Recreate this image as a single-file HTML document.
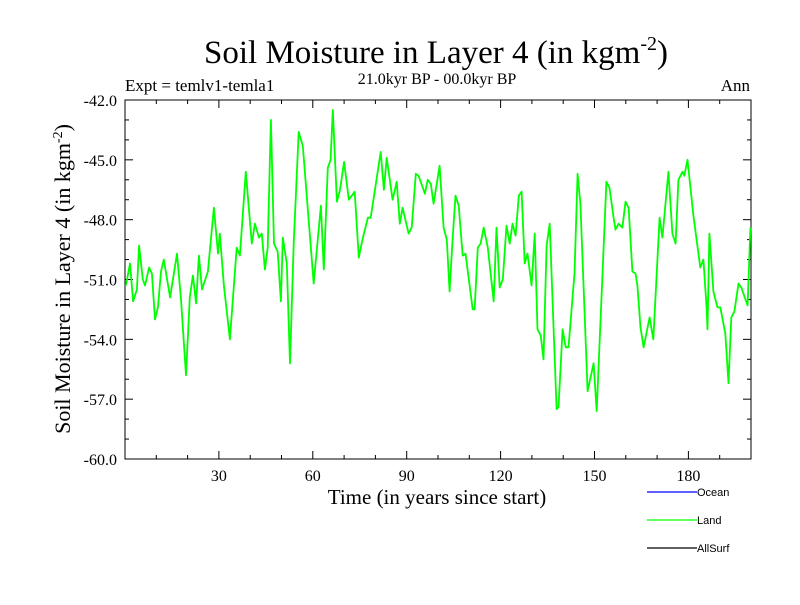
<!DOCTYPE html>
<html><head><meta charset="utf-8"><style>
body{margin:0;background:#fff;width:800px;height:600px;overflow:hidden}
svg text{font-family:"Liberation Serif",serif;fill:#000}
</style></head><body>
<svg id="chart" width="800" height="600" xmlns="http://www.w3.org/2000/svg">
<text x="436" y="63" font-size="33" text-anchor="middle">Soil Moisture in Layer 4 (in kgm<tspan font-size="20" dy="-13">-2</tspan><tspan dy="13">)</tspan></text>
<text x="125" y="91" font-size="17">Expt = temlv1-temla1</text>
<text x="437" y="84" font-size="16" text-anchor="middle">21.0kyr BP - 00.0kyr BP</text>
<text x="750" y="91" font-size="17" text-anchor="end">Ann</text>
<text x="437" y="504" font-size="21" text-anchor="middle">Time (in years since start)</text>
<text transform="translate(70,279) rotate(-90)" font-size="22" text-anchor="middle">Soil Moisture in Layer 4 (in kgm<tspan font-size="14" dy="-8">-2</tspan><tspan dy="8">)</tspan></text>
<g id="axes"></g>
<g id="series"></g>
<g>
<line x1="647" y1="492" x2="697" y2="492" stroke="#0000ff" stroke-width="1.3"/>
<text x="697" y="496" font-size="11" style="font-family:'Liberation Sans',sans-serif">Ocean</text>
<line x1="647" y1="520" x2="697" y2="520" stroke="#00ff00" stroke-width="1.3"/>
<text x="697" y="524" font-size="11" style="font-family:'Liberation Sans',sans-serif">Land</text>
<line x1="647" y1="548" x2="697" y2="548" stroke="#000" stroke-width="1.3"/>
<text x="697" y="552" font-size="11" style="font-family:'Liberation Sans',sans-serif">AllSurf</text>
</g>
</svg>
<script>
const years=[0.3,1.6,2.6,3.8,4.5,5.7,6.4,7.7,8.6,9.6,10.5,11.5,12.4,14.4,16.6,17.9,19.5,20.7,21.7,22.7,23.6,24.6,26.5,28.4,29.7,30.3,31.6,33.5,35.7,36.7,38.6,40.5,41.5,42.8,43.7,44.7,45.6,46.6,47.6,48.8,49.8,50.4,51.7,52.7,53.9,55.5,56.8,60.3,62.6,63.5,64.8,65.7,66.4,67.7,68.7,70.0,71.5,73.4,74.7,76.0,77.6,78.5,81.7,82.7,83.6,85.5,86.8,87.8,88.7,90.6,91.6,92.9,93.8,95.8,96.7,97.7,98.6,100.5,101.8,102.8,103.7,104.7,105.6,106.6,107.9,108.8,111.1,111.7,112.7,113.6,114.6,115.9,117.8,118.7,119.7,120.7,121.9,122.9,123.8,124.8,125.8,126.7,127.7,128.6,129.9,130.9,131.8,132.8,133.7,134.7,135.7,137.9,138.5,139.8,140.8,141.7,143.6,144.6,145.5,147.8,149.7,150.7,153.8,154.8,156.1,156.7,157.7,158.9,159.9,160.9,162.1,163.1,163.7,164.7,165.7,167.6,168.8,170.8,171.7,173.6,174.9,175.9,176.8,178.1,178.7,179.7,181.6,183.8,184.8,185.8,186.1,186.7,188.0,189.3,190.2,191.8,192.8,193.7,194.7,196.0,196.9,198.9,199.8];
const landValues=[-51.3,-50.2,-52.1,-51.5,-49.3,-51.0,-51.3,-50.4,-50.7,-53.0,-52.4,-50.6,-50.0,-51.9,-49.7,-52.0,-55.8,-51.9,-50.8,-52.2,-49.8,-51.5,-50.6,-47.4,-49.7,-48.7,-51.3,-54.0,-49.4,-49.8,-45.6,-49.2,-48.2,-48.9,-48.7,-50.5,-49.4,-43.0,-49.2,-49.6,-52.1,-48.9,-50.2,-55.2,-49.2,-43.6,-44.3,-51.2,-47.3,-50.5,-45.4,-45.0,-42.5,-47.1,-46.5,-45.1,-47.0,-46.6,-49.9,-48.9,-47.9,-47.9,-44.6,-46.5,-44.9,-47.0,-46.1,-48.2,-47.4,-48.7,-48.4,-45.7,-45.8,-46.7,-46.0,-46.2,-47.2,-45.3,-48.4,-49.0,-51.6,-48.9,-46.8,-47.3,-49.8,-49.7,-52.5,-52.5,-49.4,-49.2,-48.4,-49.4,-52.1,-48.4,-51.4,-51.0,-48.3,-49.2,-48.2,-48.8,-46.8,-46.6,-50.2,-49.7,-51.3,-48.7,-53.5,-53.8,-55.0,-49.3,-48.2,-57.5,-57.4,-53.5,-54.4,-54.4,-50.7,-45.7,-47.2,-56.6,-55.2,-57.6,-46.1,-46.4,-47.9,-48.5,-48.2,-48.4,-47.1,-47.4,-50.6,-50.7,-51.3,-53.4,-54.4,-52.9,-54.0,-47.9,-48.9,-45.6,-48.7,-49.2,-46.0,-45.6,-45.8,-45.0,-47.8,-50.4,-50.0,-52.4,-53.5,-48.7,-51.6,-52.4,-52.4,-53.7,-56.2,-52.9,-52.6,-51.2,-51.4,-52.3,-48.4];
const xTickValues=[30,60,90,120,150,180];
const yTickLabels=["-42.0","-45.0","-48.0","-51.0","-54.0","-57.0","-60.0"];

const L=125,R=751,T=100,B=459,XMIN=0,XMAX=200,YMIN=-60,YMAX=-42;
const sx=v=>L+(v-XMIN)/(XMAX-XMIN)*(R-L);
const sy=v=>B-(v-YMIN)/(YMAX-YMIN)*(B-T);
const NS="http://www.w3.org/2000/svg";
const axes=document.getElementById('axes');
function mk(tag,attrs,parent){const e=document.createElementNS(NS,tag);for(const k in attrs)e.setAttribute(k,attrs[k]);parent.appendChild(e);return e;}
const frame=mk('rect',{x:L,y:T,width:R-L,height:B-T,fill:'none',stroke:'#000','stroke-width':1},axes);


for(let v=10;v<XMAX;v+=10){const major=v%30===0;const len=major?8:4;
 const t1=mk('line',{x1:sx(v),x2:sx(v),y1:B,y2:B-len,stroke:'#000'},axes);
 
 
 const t2=mk('line',{x1:sx(v),x2:sx(v),y1:T,y2:T+len,stroke:'#000'},axes);
 
 }
xTickValues.forEach(v=>{const t=mk('text',{x:sx(v),y:B+22,'font-size':16,'text-anchor':'middle'},axes);t.textContent=v;
 
 });
for(let v=YMIN+1;v<YMAX;v+=1){const major=(v-YMIN)%3===0;const len=major?8:4;
 const t1=mk('line',{x1:L,x2:L+len,y1:sy(v),y2:sy(v),stroke:'#000'},axes);
 
 
 const t2=mk('line',{x1:R,x2:R-len,y1:sy(v),y2:sy(v),stroke:'#000'},axes);
 
 }
yTickLabels.forEach(s=>{const t=mk('text',{x:117,y:sy(parseFloat(s))+6,'font-size':16,'text-anchor':'end'},axes);t.textContent=s;
 
 });
const d=years.map((y,i)=>(i?'L':'M')+sx(y).toFixed(1)+','+sy(landValues[i]).toFixed(1)).join('');
const line=mk('path',{d:d,fill:'none',stroke:'#00ff00','stroke-width':1.8,'stroke-linejoin':'round'},document.getElementById('series'));


</script>
</body></html>
